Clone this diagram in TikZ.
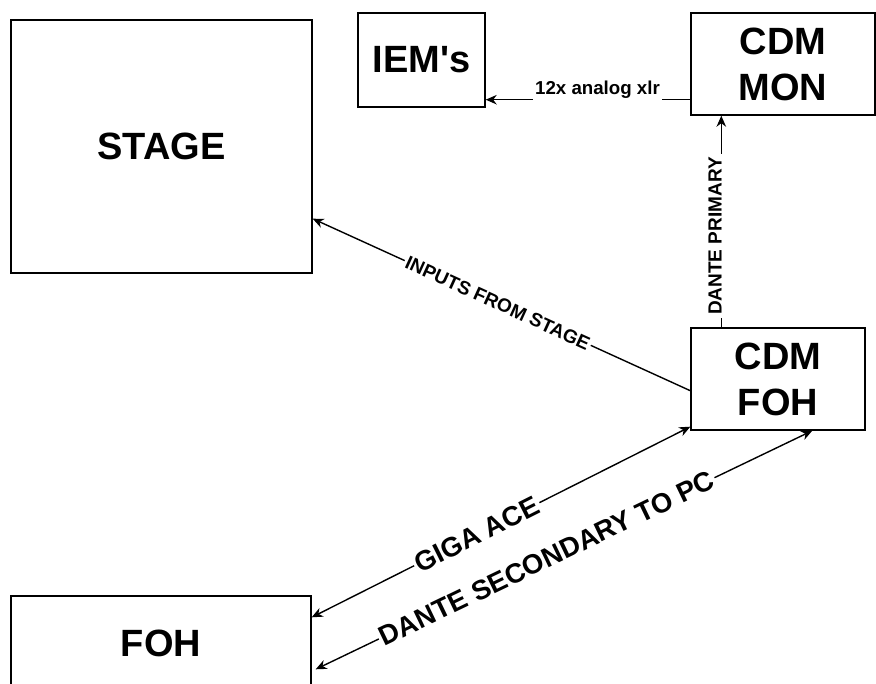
\documentclass[tikz,border=0pt]{standalone}
\usepackage{fontspec}
\setmainfont{Liberation Sans}
\usetikzlibrary{arrows.meta}
\begin{document}
\begin{tikzpicture}[x=1pt,y=-1pt,
  boxst/.style={draw=black,line width=1.4pt,inner sep=0pt,align=center,
    font=\bfseries\fontsize{38}{46}\selectfont},
  lbl/.style={fill=white,inner sep=2pt,text=black},
  smallf/.style={font=\bfseries\fontsize{19}{22}\selectfont},
  bigf/.style={font=\bfseries\fontsize{27.5}{32}\selectfont},
  tipst/.tip={Stealth[length=11pt,width=9.5pt,inset=3.5pt]},
  arr/.style={draw=black,line width=1.4pt,-tipst},
  darr/.style={draw=black,line width=1.4pt,tipst-tipst}]
\useasboundingbox (0,0) rectangle (876,684);
\fill[white] (0,0) rectangle (876,684);

\node[boxst,minimum width=301pt,minimum height=253pt] (stage) at (161.5,146.5) {STAGE};
\node[boxst,minimum width=127pt,minimum height=94pt] (iem) at (421.5,60) {IEM\textquotesingle s};
\node[boxst,minimum width=184pt,minimum height=102pt] (mon) at (783,64) {CDM\\MON};
\node[boxst,minimum width=174pt,minimum height=102pt] (cfoh) at (778,379) {CDM\\FOH};
\node[boxst,minimum width=300pt,minimum height=95pt] (foh) at (161,643.5) {FOH};

% 12x analog xlr
\coordinate (m1) at ([yshift=16pt]mon.south west);
\draw[arr] (m1) -- (m1 -| iem.east);
\node[lbl,font=\bfseries\fontsize{18.7}{22}\selectfont,anchor=base] (l1) at (597.5,94.5) {12x analog xlr};

% Dante primary
\coordinate (p1) at ([xshift=31pt]cfoh.north west);
\draw[arr] (p1) -- (p1 |- mon.south);
\node[lbl,smallf,rotate=90,anchor=base,inner sep=3pt] (l2) at (721.5,236) {DANTE PRIMARY};

% inputs from stage
\coordinate (s1) at ([yshift=40pt]cfoh.south west);
\coordinate (s2) at ([yshift=55pt]stage.south east);
\draw[arr] (s1) -- node[lbl,smallf,sloped,pos=0.51] (l3) {INPUTS FROM STAGE} (s2);

% giga ace
\coordinate (g1) at ([yshift=4pt]cfoh.south west);
\coordinate (g2) at ([yshift=-22pt]foh.north east);
\draw[darr] (g1) -- node[lbl,bigf,sloped,pos=0.564] (l4) {GIGA ACE} (g2);

% dante secondary
\coordinate (d1) at ([xshift=122pt]cfoh.south west);
\coordinate (d2) at ([xshift=4pt,yshift=-74pt]foh.north east);
\draw[darr] (d1) -- node[lbl,bigf,sloped,pos=0.535] (l5) {DANTE SECONDARY TO PC} (d2);
\end{tikzpicture}
\end{document}
